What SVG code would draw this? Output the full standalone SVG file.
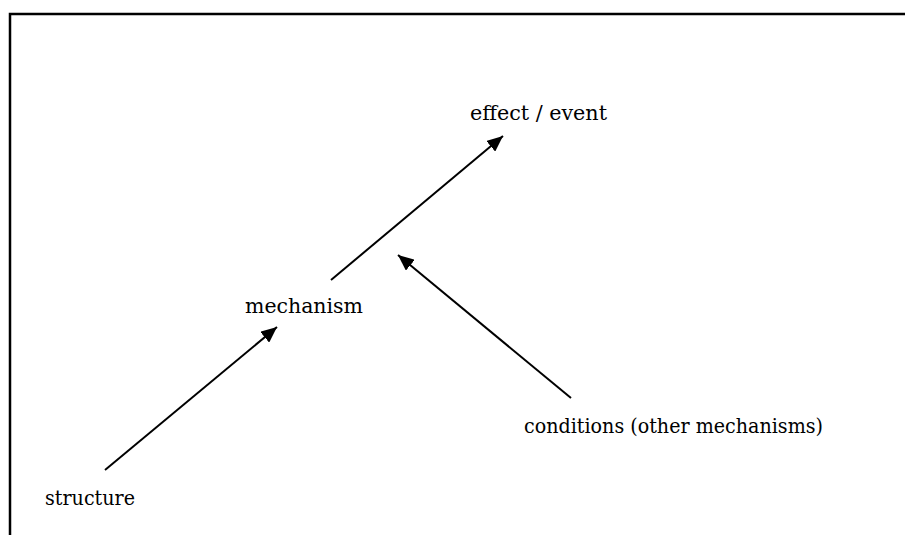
<svg xmlns="http://www.w3.org/2000/svg" width="905" height="535" viewBox="0 0 905 535">
<style>
.lbl{font-family:"DejaVu Serif","Liberation Serif",serif;font-size:21px;fill:#000}
.edge{stroke:#000;stroke-width:2;fill:none}
</style>
<defs>
<marker id="ah" markerUnits="userSpaceOnUse" markerWidth="18" markerHeight="14" refX="16" refY="7" orient="auto">
<path d="M0,0 L16,7 L0,14 Z" fill="#000"/>
</marker>
</defs>
<rect width="905" height="535" fill="#fff"/>
<g id="frame">
<path d="M10,535 L10,14 L905,14" stroke="#000" stroke-width="2.5" fill="none"/>
</g>
<g id="connectors">
<line class="edge" x1="105" y1="470" x2="277" y2="327" marker-end="url(#ah)"/>
<line class="edge" x1="331" y1="280" x2="503" y2="136" marker-end="url(#ah)"/>
<line class="edge" x1="571" y1="398" x2="398" y2="255" marker-end="url(#ah)"/>
</g>
<g id="effect"><text class="lbl" x="470" y="120" textLength="137" lengthAdjust="spacingAndGlyphs">effect / event</text></g>
<g id="mechanism"><text class="lbl" x="245" y="313" textLength="118" lengthAdjust="spacingAndGlyphs">mechanism</text></g>
<g id="structure"><text class="lbl" x="45" y="505" textLength="90" lengthAdjust="spacingAndGlyphs">structure</text></g>
<g id="conditions"><text class="lbl" x="524" y="433" textLength="299" lengthAdjust="spacingAndGlyphs">conditions (other mechanisms)</text></g>
</svg>
